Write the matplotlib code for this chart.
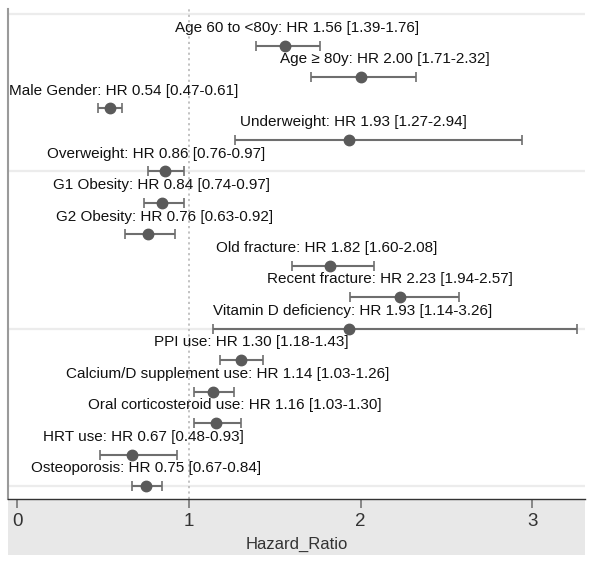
import matplotlib.pyplot as plt
from matplotlib.patches import Rectangle

plt.rcParams['font.family'] = ['Liberation Sans', 'DejaVu Sans']

# Hazard ratios with 95% CI, top to bottom
factors = ['Age 60 to <80y', 'Age \u2265 80y', 'Male Gender', 'Underweight',
           'Overweight', 'G1 Obesity', 'G2 Obesity', 'Old fracture',
           'Recent fracture', 'Vitamin D deficiency', 'PPI use',
           'Calcium/D supplement use', 'Oral corticosteroid use', 'HRT use',
           'Osteoporosis']
hr = [1.56, 2.00, 0.54, 1.93, 0.86, 0.84, 0.76, 1.82, 2.23, 1.93, 1.30, 1.14, 1.16, 0.67, 0.75]
ci_low = [1.39, 1.71, 0.47, 1.27, 0.76, 0.74, 0.63, 1.60, 1.94, 1.14, 1.18, 1.03, 1.03, 0.48, 0.67]
ci_high = [1.76, 2.32, 0.61, 2.94, 0.97, 0.97, 0.92, 2.08, 2.57, 3.26, 1.43, 1.26, 1.30, 0.93, 0.84]

# horizontal shift of each label relative to its point (pixels)
label_shift = [12, 24, 14, 5, -9, 0, 17, -3, -10, 4, 11, 15, 18, 11, 0]

fig = plt.figure(figsize=(6.01, 5.61), dpi=100)
ax = fig.add_axes([8 / 601, 62 / 561, 577 / 601, 490 / 561])

rows = list(range(1, len(factors) + 1))

for g in [0, 5, 10, 15]:
    ax.axhline(g, color='#ececec', lw=1.6, zorder=0)
ax.axvline(1, color='#bdbdbd', lw=1.3, ls=(0, (1.2, 1.8)), zorder=1)

err = [[h - l for h, l in zip(hr, ci_low)], [u - h for h, u in zip(hr, ci_high)]]
ax.errorbar(hr, rows, xerr=err, fmt='o', color='#5a5a5a', ecolor='#6e6e6e',
            elinewidth=1.5, capsize=3.5, capthick=1.2, markersize=7.5, zorder=3)

for name, h, l, u, y, dx in zip(factors, hr, ci_low, ci_high, rows, label_shift):
    ax.annotate(f'{name}: HR {h:.2f} [{l:.2f}-{u:.2f}]', xy=(h, y),
                xytext=(dx * 0.72, 12.8), textcoords='offset points',
                ha='center', va='center', fontsize=11, color='#111111')

ax.set_xlim(-0.054, 3.306)
ax.set_ylim(15.41, -0.16)
ax.set_xticks([0, 1, 2, 3])
ax.set_yticks([])
ax.tick_params(axis='x', direction='out', length=6.5, width=1.2, color='#777777',
               labelsize=13.5, labelcolor='#333333', pad=3.5)
ax.set_xlabel('Hazard_Ratio', fontsize=12, color='#333333', labelpad=5)

for s in ['top', 'right']:
    ax.spines[s].set_visible(False)
ax.spines['left'].set_color('#9a9a9a')
ax.spines['left'].set_linewidth(1.5)
ax.spines['bottom'].set_color('#333333')
ax.spines['bottom'].set_linewidth(1.0)

# grey band below the plot area
band = Rectangle((0, -56 / 490), 1, 56 / 490, transform=ax.transAxes,
                 facecolor='#e8e8e8', edgecolor='none', clip_on=False, zorder=-1)
ax.add_patch(band)

fig.savefig('out.png', dpi=100)
